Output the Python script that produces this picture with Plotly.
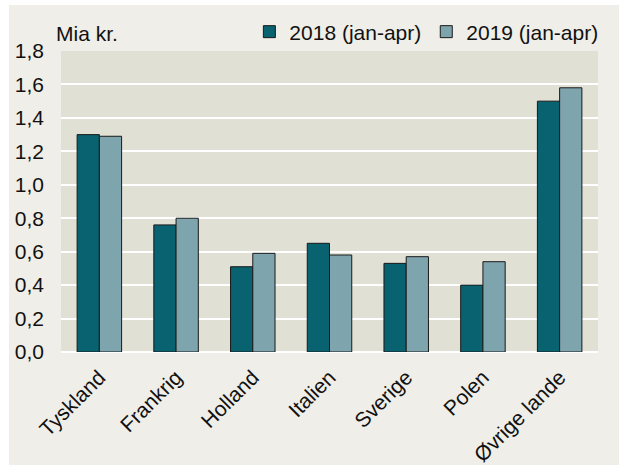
import plotly.graph_objects as go

categories = ["Tyskland", "Frankrig", "Holland", "Italien", "Sverige", "Polen", "Øvrige lande"]
values_2018 = [1.30, 0.76, 0.51, 0.65, 0.53, 0.40, 1.50]
values_2019 = [1.29, 0.80, 0.59, 0.58, 0.57, 0.54, 1.58]
series_names = ["2018 (jan-apr)", "2019 (jan-apr)"]
y_ticks = [0.0, 0.2, 0.4, 0.6, 0.8, 1.0, 1.2, 1.4, 1.6, 1.8]

W, H = 619, 468
ML, MR, MT, MB = 61, 21, 51, 116
PW, PH = W - ML - MR, H - MT - MB

def px_x(p):
    return (p - ML) / PW

def px_y(p):
    return (H - MB - p) / PH

FONT = "Liberation Sans, Arial, sans-serif"
FS = 21
C2018 = "#08626F"
C2019 = "#7EA4AE"

fig = go.Figure()
fig.add_trace(go.Bar(x=categories, y=values_2018, name=series_names[0],
                     marker=dict(color=C2018, line=dict(color="#1a1a1a", width=1))))
fig.add_trace(go.Bar(x=categories, y=values_2019, name=series_names[1],
                     marker=dict(color=C2019, line=dict(color="#1a1a1a", width=1))))

fig.update_layout(
    width=W, height=H,
    margin=dict(l=ML, r=MR, t=MT, b=MB, pad=0, autoexpand=False),
    paper_bgcolor="white",
    plot_bgcolor="rgba(0,0,0,0)",
    font=dict(family=FONT, size=FS, color="#1a1a1a"),
    separators=",.",
    barmode="group",
    bargap=0.42,
    bargroupgap=0,
    showlegend=True,
    legend=dict(orientation="h", x=1.01, xanchor="right", y=px_y(32), yanchor="middle",
                bgcolor="rgba(0,0,0,0)", font=dict(size=FS, color="#111"),
                itemwidth=30, traceorder="normal"),
    shapes=[
        dict(type="rect", xref="paper", yref="paper", layer="below",
             x0=px_x(9), x1=px_x(W + 5), y0=px_y(465), y1=px_y(5),
             fillcolor="#EFEEE8", line=dict(width=0)),
        dict(type="rect", xref="paper", yref="paper", layer="below",
             x0=0, x1=1, y0=0, y1=1,
             fillcolor="#E0E0D5", line=dict(width=0)),
    ],
    annotations=[
        dict(text="Mia kr.", xref="paper", yref="paper", x=px_x(54), y=px_y(33),
             xanchor="left", yanchor="middle", showarrow=False,
             font=dict(size=FS, color="#111")),
    ],
)

fig.update_xaxes(showgrid=False, showline=False, ticks="", tickangle=-45,
                 automargin=False, ticklabelstandoff=8,
                 tickfont=dict(size=FS, color="#111"))
fig.update_yaxes(range=[0, 1.8], tickvals=y_ticks, tickformat=".1f",
                 automargin=False,
                 showgrid=True, gridcolor="white", gridwidth=1.5,
                 zeroline=True, zerolinecolor="white", zerolinewidth=2,
                 showline=False, ticks="", ticklabelstandoff=16,
                 tickfont=dict(size=FS, color="#111"))

fig.write_html("out.html", config={"displayModeBar": False},
               post_script="document.body.style.margin='0';")
